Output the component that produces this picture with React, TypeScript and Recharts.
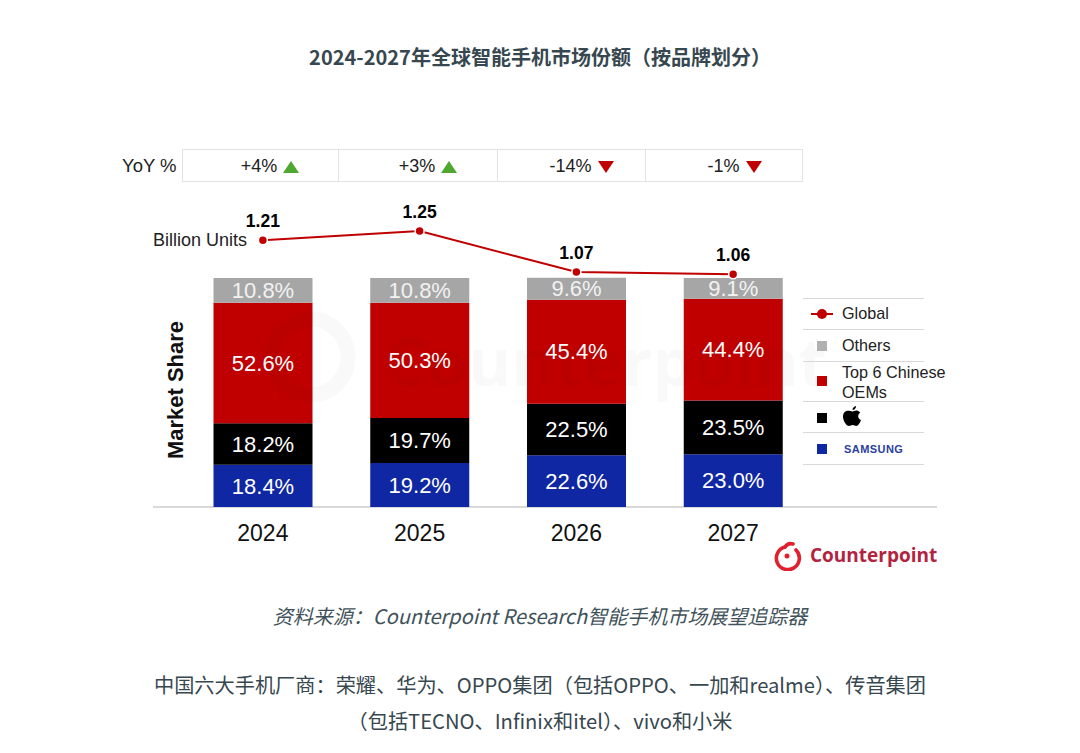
import {
  ComposedChart,
  Bar,
  Line,
  XAxis,
  YAxis,
  LabelList,
} from "recharts";

const YEARS = ["2024", "2025", "2026", "2027"];
const SAMSUNG = [18.4, 19.2, 22.6, 23.0];
const APPLE = [18.2, 19.7, 22.5, 23.5];
const CHINESE = [52.6, 50.3, 45.4, 44.4];
const OTHERS = [10.8, 10.8, 9.6, 9.1];
const GLOBAL = [1.21, 1.25, 1.07, 1.06];
const YOY = ["+4%", "+3%", "-14%", "-1%"];

const data = YEARS.map((year, i) => ({
  year,
  samsung: SAMSUNG[i],
  apple: APPLE[i],
  chinese: CHINESE[i],
  others: OTHERS[i],
  global: GLOBAL[i],
}));

const ARIAL = "'Liberation Sans', Arial, sans-serif";
const CJK = "'Noto Sans CJK SC', sans-serif";
const RED = "#c00000";
const BLUE = "#0f27a3";
const GREY = "#a6a6a6";

const fmtPct = (v: any) => `${Number(v).toFixed(1)}%`;
const labelStyle = { fill: "#fff", fontSize: 22, fontFamily: ARIAL };

function abs(left: number, top: number, extra: React.CSSProperties = {}): React.CSSProperties {
  return { position: "absolute", left, top, whiteSpace: "nowrap", ...extra };
}

function Triangle({ up }: { up: boolean }) {
  return (
    <svg width="16" height="12" style={{ marginLeft: 6 }}>
      <polygon
        points={up ? "0,12 8,0 16,12" : "0,0 16,0 8,12"}
        fill={up ? "#4ea72e" : RED}
      />
    </svg>
  );
}

const CELL_EDGES = [182, 339, 498, 646, 803];

function YoyRow() {
  return (
    <>
      <div style={abs(122, 155, { fontFamily: ARIAL, fontSize: 18.500, color: "#222" })}>YoY %</div>
      <div style={abs(182, 149, { width: 621, height: 33, boxSizing: "border-box", border: "1px solid #e2e2e2" })} />
      {YOY.map((t, i) => (
        <div
          key={t}
          style={abs(CELL_EDGES[i], 149, {
            width: CELL_EDGES[i + 1] - CELL_EDGES[i],
            height: 33,
            boxSizing: "border-box",
            borderRight: i < 3 ? "1px solid #e2e2e2" : "none",
            paddingLeft: 20,
            paddingTop: 2,
            display: "flex",
            alignItems: "center",
            justifyContent: "center",
            fontFamily: ARIAL,
            fontSize: 18,
            color: "#222",
          })}
        >
          {t}
          <Triangle up={!t.startsWith("-")} />
        </div>
      ))}
    </>
  );
}

const LEGEND_LINES = [298, 329, 361, 401, 432, 464];

function LegendBox() {
  const text = { fontFamily: ARIAL, fontSize: 16.200, color: "#222", lineHeight: "20px" };
  const square = (top: number, color: string) => (
    <div style={abs(817, top, { width: 10, height: 10, background: color })} />
  );
  return (
    <>
      {LEGEND_LINES.map((y) => (
        <div key={y} style={abs(803, y, { width: 121, height: 1, background: "#d9d9d9" })} />
      ))}
      <div style={abs(811, 313, { width: 22, height: 2, background: RED })} />
      <div style={abs(817, 309, { width: 10, height: 10, borderRadius: 5, background: RED })} />
      <div style={abs(842, 303, text)}>Global</div>
      {square(341, "#b0b0b0")}
      <div style={abs(842, 335, text)}>Others</div>
      {square(376, RED)}
      <div style={abs(842, 362, text)}>
        Top 6 Chinese
        <br />
        OEMs
      </div>
      {square(413, "#000")}
      <svg style={abs(843, 406)} width="19" height="22" viewBox="0 0 19 22">
        <path
          d="M13 0c.2 1.800-1.400 4-3.500 4C9.300 2.200 11 .3 13 0zM9.500 5.500c1 0 2-.9 3.700-.9 1.300 0 3 .6 4 2.100-3 1.800-2.500 6 .8 7.300-.8 2.300-2.700 6-4.800 6-1.300 0-1.900-.9-3.500-.9s-2.300.9-3.500.9C3.300 20 0 14.600 0 10.700 0 6.900 2.400 4.800 4.900 4.800c1.900 0 3.400.7 4.600.7z"
          fill="#000"
        />
      </svg>
      {square(444, BLUE)}
      <div
        style={abs(844, 441, {
          fontFamily: ARIAL,
          fontSize: 11,
          fontWeight: 700,
          letterSpacing: 0.45,
          color: "#2a3f9e",
          lineHeight: "16px",
        })}
      >
        SAMSUNG
      </div>
    </>
  );
}

function Logo() {
  return (
    <>
      <svg style={abs(774, 541)} width="28" height="30" viewBox="0 0 28 30">
        <path
          d="M11 6 A11.500 11.500 0 1 0 22 9"
          fill="none"
          stroke="#e0202f"
          strokeWidth="3.600"
          strokeLinecap="round"
        />
        <path d="M11 6 C13 3 16 2 19 3" fill="none" stroke="#e0202f" strokeWidth="3.600" strokeLinecap="round" />
        <circle cx="13" cy="15" r="2.500" fill="#e0202f" />
      </svg>
      <div
        style={abs(810, 541, {
          fontFamily: "'Open Sans', sans-serif",
          fontWeight: 700,
          fontSize: 19,
          lineHeight: "28px",
          color: "#b3233f",
        })}
      >
        Counterpoint
      </div>
    </>
  );
}

// faint brand mark lying across the plot
function Watermark() {
  return (
    <>
      <svg style={abs(262, 305)} width="96" height="100" viewBox="0 0 96 100">
        <circle cx="48" cy="52" r="38" fill="none" stroke="rgba(0,0,0,0.025)" strokeWidth="15" />
      </svg>
      <div
        style={abs(385, 315, {
          fontFamily: "'Open Sans', sans-serif",
          fontWeight: 700,
          fontSize: 66,
          lineHeight: "90px",
          color: "rgba(0,0,0,0.025)",
        })}
      >
        Counterpoint
      </div>
    </>
  );
}

export default function App() {
  return (
    <div style={{ position: "absolute", left: 0, top: 0, width: 1080, height: 753, background: "#fff", overflow: "hidden" }}>
      <div
        style={abs(0, 42, {
          width: 1080,
          textAlign: "center",
          fontFamily: CJK,
          fontWeight: 700,
          fontSize: 20,
          lineHeight: "30px",
          color: "#37474f",
        })}
      >
        2024-2027年全球智能手机市场份额（按品牌划分）
      </div>

      <YoyRow />

      <div style={abs(153, 506, { width: 784, height: 2, background: "#d9d9d9" })} />

      <div style={abs(0, 0)}>
        <ComposedChart
          width={1080}
          height={753}
          data={data}
          margin={{ top: 200, right: 268.5, bottom: 196, left: 184.5 }}
        >
          <XAxis
            dataKey="year"
            axisLine={false}
            tickLine={false}
            height={50}
            tickMargin={12}
            tick={{ fill: "#111", fontSize: 23, fontFamily: ARIAL }}
          />
          <YAxis yAxisId="share" hide domain={[0, 134]} allowDataOverflow />
          <YAxis yAxisId="units" hide orientation="right" domain={[0.04, 1.386]} allowDataOverflow />
          <Bar yAxisId="share" dataKey="samsung" stackId="s" fill={BLUE} barSize={99} isAnimationActive={false}>
            <LabelList dataKey="samsung" position="center" formatter={fmtPct} style={labelStyle} />
          </Bar>
          <Bar yAxisId="share" dataKey="apple" stackId="s" fill="#000" barSize={99} isAnimationActive={false}>
            <LabelList dataKey="apple" position="center" formatter={fmtPct} style={labelStyle} />
          </Bar>
          <Bar yAxisId="share" dataKey="chinese" stackId="s" fill={RED} barSize={99} isAnimationActive={false}>
            <LabelList dataKey="chinese" position="center" formatter={fmtPct} style={labelStyle} />
          </Bar>
          <Bar yAxisId="share" dataKey="others" stackId="s" fill={GREY} barSize={99} isAnimationActive={false}>
            <LabelList dataKey="others" position="center" formatter={fmtPct} style={{ ...labelStyle, fill: "#f2f2f2" }} />
          </Bar>
          <Line
            yAxisId="units"
            dataKey="global"
            stroke={RED}
            strokeWidth={2}
            dot={{ r: 4.500, fill: RED, stroke: "#fff", strokeWidth: 1.500 }}
            isAnimationActive={false}
          >
            <LabelList
              dataKey="global"
              position="top"
              offset={13}
              formatter={(v: any) => Number(v).toFixed(2)}
              style={{ fill: "#000", fontSize: 17.500, fontWeight: 700, fontFamily: ARIAL }}
            />
          </Line>
        </ComposedChart>
      </div>

      <Watermark />

      <div style={abs(153, 230, { fontFamily: ARIAL, fontSize: 18, lineHeight: "20px", color: "#222" })}>Billion Units</div>

      <div
        style={abs(176, 390, {
          transform: "translate(-50%, -50%) rotate(-90deg)",
          fontFamily: ARIAL,
          fontSize: 22,
          fontWeight: 700,
          color: "#111",
        })}
      >
        Market Share
      </div>

      <LegendBox />
      <Logo />

      <div
        style={abs(0, 601, {
          width: 1080,
          textAlign: "center",
          fontFamily: CJK,
          fontStyle: "italic",
          fontSize: 20,
          lineHeight: "30px",
          color: "#3f525b",
        })}
      >
        资料来源：Counterpoint Research智能手机市场展望追踪器
      </div>
      <div
        style={abs(0, 667, {
          width: 1080,
          textAlign: "center",
          fontFamily: CJK,
          fontSize: 20.200,
          lineHeight: "36px",
          color: "#37474f",
        })}
      >
        中国六大手机厂商：荣耀、华为、OPPO集团（包括OPPO、一加和realme）、传音集团
        <br />
        （包括TECNO、Infinix和itel）、vivo和小米
      </div>
    </div>
  );
}
